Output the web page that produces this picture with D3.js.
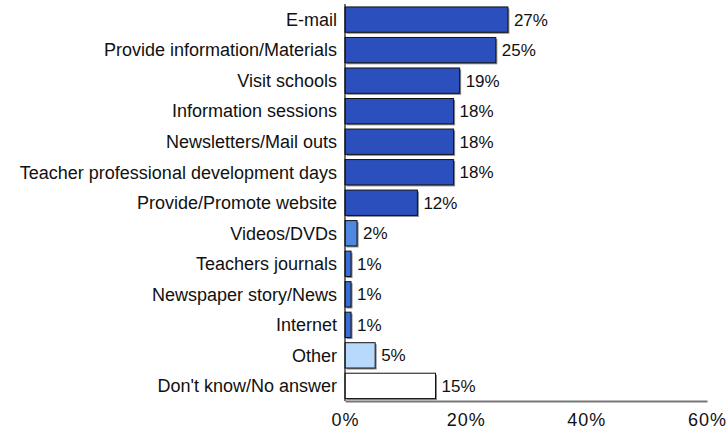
<!DOCTYPE html>
<html>
<head>
<meta charset="utf-8">
<script src="https://cdn.jsdelivr.net/npm/d3@7"></script>
<style>
  html, body { margin: 0; padding: 0; background: #fff; }
  svg { display: block; font-family: "Liberation Sans", Arial, Helvetica, sans-serif; }
</style>
</head>
<body>
<svg id="chart" width="728" height="434"></svg>
<script>
// Survey responses (percent of respondents)
const categories = [
  "E-mail",
  "Provide information/Materials",
  "Visit schools",
  "Information sessions",
  "Newsletters/Mail outs",
  "Teacher professional development days",
  "Provide/Promote website",
  "Videos/DVDs",
  "Teachers journals",
  "Newspaper story/News",
  "Internet",
  "Other",
  "Don't know/No answer"
];
const values = [27, 25, 19, 18, 18, 18, 12, 2, 1, 1, 1, 5, 15];
const barColors = [
  "#2b4fbd", "#2b4fbd", "#2b4fbd", "#2b4fbd", "#2b4fbd", "#2b4fbd", "#2b4fbd",
  "#4f88e0", "#3a6ed6", "#3a6ed6", "#3a6ed6", "#b9d9fc", "#ffffff"
];
const tickValues = [0, 20, 40, 60];

const svg = d3.select("#chart");
const x0 = 345, x1 = 707, yTop = 4.5, yBottom = 401;

const x = d3.scaleLinear().domain([0, 60]).range([x0, x1]);
const y = d3.scaleBand().domain(categories).range([yTop, yBottom]).paddingInner(0.17).paddingOuter(0.08);

const rows = svg.append("g").selectAll("g")
  .data(categories.map((c, i) => ({ c, v: values[i], col: barColors[i] })))
  .join("g");

// drop shadow
rows.append("rect")
  .attr("x", x(0) + 1.5)
  .attr("y", d => y(d.c) + 1.5)
  .attr("width", d => x(d.v) - x(0))
  .attr("height", y.bandwidth())
  .attr("fill", "#8a8a8a");

rows.append("rect")
  .attr("x", x(0))
  .attr("y", d => y(d.c))
  .attr("width", d => x(d.v) - x(0))
  .attr("height", y.bandwidth())
  .attr("fill", d => d.col)
  .attr("stroke", "#111")
  .attr("stroke-width", 1);

rows.append("text")
  .attr("x", d => x(d.v) + 6)
  .attr("y", d => y(d.c) + y.bandwidth() / 2)
  .attr("dy", "0.36em")
  .attr("font-size", 17)
  .attr("fill", "#111")
  .text(d => d.v + "%");

rows.append("text")
  .attr("x", 337)
  .attr("y", d => y(d.c) + y.bandwidth() / 2)
  .attr("dy", "0.35em")
  .attr("text-anchor", "end")
  .attr("font-size", 18)
  .attr("fill", "#111")
  .text(d => d.c);

// vertical category axis line
svg.append("line")
  .attr("x1", x0).attr("x2", x0)
  .attr("y1", 4).attr("y2", yBottom)
  .attr("stroke", "#111").attr("stroke-width", 1.2);

// bottom value axis
const xAxis = d3.axisBottom(x).tickValues(tickValues).tickFormat(d => d + "%").tickSize(0).tickPadding(12);
const gx = svg.append("g").attr("transform", `translate(0,${yBottom})`).call(xAxis);
gx.select(".domain").attr("stroke", "#777").attr("stroke-width", 2);
gx.selectAll("text").attr("font-size", 18).attr("letter-spacing", 1).attr("fill", "#111")
  .attr("font-family", "'Liberation Sans', Arial, Helvetica, sans-serif");
</script>
</body>
</html>
